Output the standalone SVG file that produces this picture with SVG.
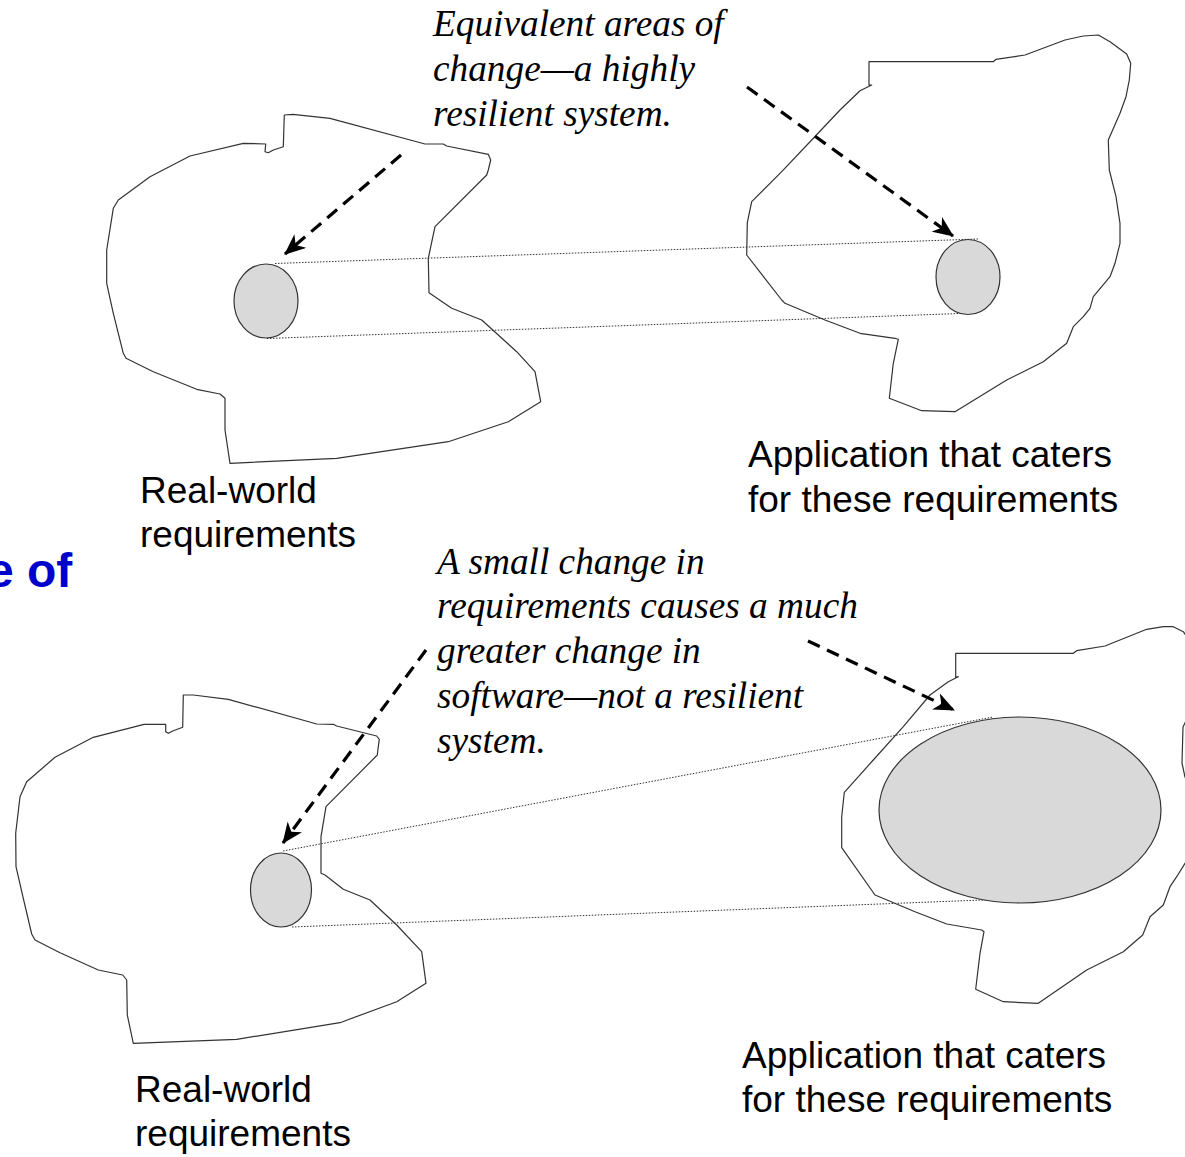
<svg xmlns="http://www.w3.org/2000/svg" width="1185" height="1157" viewBox="0 0 1185 1157">
<style>
.blob{fill:none;stroke:#333;stroke-width:1.2;stroke-linejoin:round}
.area{fill:#d9d9d9;stroke:#333;stroke-width:1.2}
.dot{fill:none;stroke:#333;stroke-width:1;stroke-dasharray:1.5 1.5}
.dash{fill:none;stroke:#000;stroke-width:3.2;stroke-dasharray:13 8}
.lbl{font-family:"Liberation Sans",Arial,sans-serif;font-size:37px;fill:#000}
.note{font-family:"Liberation Serif","Times New Roman",serif;font-style:italic;font-size:37.3px;fill:#000}
.title{font-family:"Liberation Sans",Arial,sans-serif;font-weight:bold;font-size:48px;fill:#0000cc}
</style>
<defs>
<marker id="ah" markerUnits="userSpaceOnUse" markerWidth="22" markerHeight="18" viewBox="0 0 22 18" refX="20" refY="9" orient="auto">
<path d="M0,0 L21,9 L0,18 L6,9 Z" fill="#000"/>
</marker>
</defs>
<rect width="1185" height="1157" fill="#fff"/>

<text class="title" x="-13" y="587">e of</text>

<g id="top-real-world">
<path class="blob" d="M284.3,115 L293,114.3 L330,118.3 L425,144 L443.3,144 L446.7,146 L488.3,154.3 L490.7,160 L488.3,170 L486.7,175 L435,226.7 L428.3,258.3 L429,292.7 L451.7,308.3 L481.7,320 L516.7,351.7 L535,371.7 L540.7,401.7 L508.3,421.7 L448.3,441.7 L336.7,458.3 L230,463.3 L225,430 L225,398.3 L220,394 L196.7,389.3 L153.3,371.7 L126,358.3 L123.3,353.3 L113.3,313.3 L106.7,283.3 L106.7,250 L113.3,208.3 L118.3,200 L150,176.7 L190,156 L243.3,143.3 L265.7,144 L265,151.7 L268.3,152.7 L273.3,150 L283.3,146.7 Z"/>
<text class="lbl" x="140" y="503">Real-world</text>
<text class="lbl" x="140" y="547">requirements</text>
</g>

<g id="top-application">
<path class="blob" d="M869,61.7 L993.3,61.7 L996,59.3 L1025,55 L1065,40 L1083.3,36 L1098.3,35 L1110,41.7 L1126.7,54 L1130.7,63.3 L1129.3,80 L1126,96.7 L1120,113.3 L1108.3,140 L1109.3,170 L1116,196.7 L1120,223.3 L1120,243.3 L1115,263.3 L1110,276.7 L1101.7,286.7 L1093.3,296.7 L1090,308.3 L1083.3,316.7 L1073.3,326.7 L1066.7,343.3 L1043.3,361.7 L1006.7,380 L955,411.7 L921.7,410.7 L889.3,398.3 L893.3,363.3 L898.3,339.3 L895,338.3 L860,333.3 L825,320 L785,303.3 L781.7,300 L746.7,255 L747.3,222.7 L751.7,201.7 L781.7,171.7 L811.7,140 L840,110 L860,90.7 L871.7,85 L869,85 Z"/>
<text class="lbl" x="748" y="467">Application that caters</text>
<text class="lbl" x="748" y="512">for these requirements</text>
</g>

<g id="bottom-real-world">
<path class="blob" d="M183.3,695 L193.3,695 L228.3,699.3 L316.7,724 L333.3,724.3 L336.7,726 L376.7,736 L379.3,739.3 L378.3,746.7 L377.3,755 L326,806.7 L321,836.7 L321,873.3 L325,875 L343.3,889.3 L370,900 L396.7,925 L421.7,951.7 L426,983.3 L396.7,1001.7 L340,1022.7 L236.7,1039.3 L133.3,1043.3 L127.3,1015 L126.7,980 L122.7,975 L98.3,970 L60,952.7 L35,940 L31.7,934 L23.3,898.3 L16,866.7 L15.7,833.3 L20,796.7 L26.7,781.7 L55,757.3 L93.3,737.3 L144,724.3 L165.7,724.3 L165.7,731.7 L168.3,733.3 L173.3,730.7 L182.7,727.3 Z"/>
<text class="lbl" x="135" y="1102">Real-world</text>
<text class="lbl" x="135" y="1146">requirements</text>
</g>

<g id="bottom-application">
<path class="blob" d="M955.7,653.3 L1073.3,653.3 L1076.7,650.7 L1105,646 L1146.7,629.3 L1163.3,626.7 L1173.3,626.7 L1183.3,631.7 L1196,650 L1196,700 L1183,727 L1182,763 L1185,777 L1196,800 L1196,850 L1185,863.3 L1176.7,876.7 L1170,886.7 L1163.3,905 L1150,916.7 L1142.7,935 L1123.3,951.7 L1086.7,970 L1038.3,1003.3 L1003.3,1001.7 L975.7,989.3 L980,953.3 L984,931.7 L981.7,930 L946.7,924 L915,911.7 L875,895 L841.7,847.7 L841.7,816.7 L844.3,792.3 L873.3,760 L903.3,726.7 L930,695 L948.3,681.7 L958.3,676.7 L955.7,677.3 Z"/>
<text class="lbl" x="742" y="1068">Application that caters</text>
<text class="lbl" x="742" y="1112">for these requirements</text>
</g>

<g id="connectors">
<line class="dot" x1="275" y1="263.5" x2="978" y2="239"/>
<line class="dot" x1="267" y1="338.5" x2="960" y2="313.5"/>
<line class="dot" x1="283" y1="851" x2="993" y2="717"/>
<line class="dot" x1="292" y1="927" x2="995" y2="899.5"/>
<line class="dash" x1="401" y1="155" x2="285" y2="254" marker-end="url(#ah)"/>
<line class="dash" x1="747" y1="87" x2="953" y2="236" marker-end="url(#ah)"/>
<line class="dash" x1="426" y1="650" x2="283" y2="843" marker-end="url(#ah)"/>
<line class="dash" x1="808" y1="641" x2="954" y2="710" marker-end="url(#ah)"/>
</g>

<g id="areas">
<ellipse id="area-top-left" class="area" cx="266" cy="301" rx="32" ry="37"/>
<ellipse id="area-top-right" class="area" cx="968" cy="277" rx="32" ry="37.5"/>
<ellipse id="area-bottom-left" class="area" cx="281" cy="890" rx="30.5" ry="37"/>
<ellipse id="area-bottom-right" class="area" cx="1020" cy="810" rx="141" ry="93"/>
</g>

<g id="notes">
<text class="note" x="433" y="36">Equivalent areas of</text>
<text class="note" x="433" y="81">change—a highly</text>
<text class="note" x="433" y="126">resilient system.</text>
<text class="note" x="437" y="574">A small change in</text>
<text class="note" x="437" y="618">requirements causes a much</text>
<text class="note" x="437" y="663">greater change in</text>
<text class="note" x="437" y="708">software—not a resilient</text>
<text class="note" x="437" y="753">system.</text>
</g>
</svg>
